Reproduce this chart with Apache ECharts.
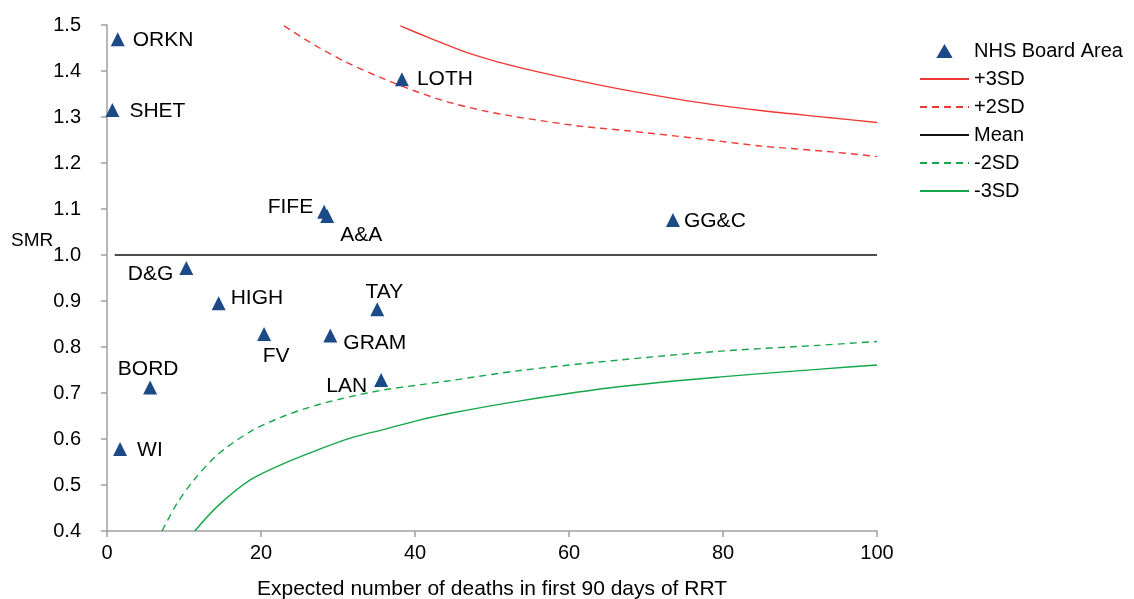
<!DOCTYPE html>
<html>
<head>
<meta charset="utf-8">
<script src="https://cdn.jsdelivr.net/npm/echarts@6/dist/echarts.min.js"></script>
<style>
  html, body { margin: 0; padding: 0; background: #fff; }
  #main { width: 1134px; height: 599px; }
</style>
</head>
<body>
<div id="main"></div>
<script>
// NHS board areas: expected deaths (x) and SMR (y)
var boards = ["ORKN", "SHET", "LOTH", "FIFE", "A&A", "GG&C", "D&G", "HIGH", "TAY", "FV", "GRAM", "LAN", "BORD", "WI"];
var expected = [1.4, 0.7, 38.3, 28.2, 28.6, 73.5, 10.3, 14.5, 35.1, 20.4, 29.0, 35.6, 5.6, 1.7];
var smr = [1.469, 1.315, 1.382, 1.094, 1.085, 1.076, 0.972, 0.895, 0.882, 0.828, 0.825, 0.728, 0.712, 0.578];

// control limits
var plus3X = [38.1, 42.0, 46.4, 50.7, 55.0, 61.5, 67.2, 76.3, 84.9, 93.6, 100];
var plus3Y = [1.498, 1.471, 1.442, 1.420, 1.402, 1.378, 1.359, 1.333, 1.314, 1.299, 1.288];
var plus2X = [23.0, 26.9, 31.2, 35.5, 39.9, 44.2, 48.5, 52.9, 57.2, 61.5, 67.6, 76.3, 84.9, 93.6, 100];
var plus2Y = [1.498, 1.457, 1.418, 1.386, 1.357, 1.333, 1.315, 1.301, 1.290, 1.280, 1.270, 1.254, 1.237, 1.225, 1.214];
var meanX = [1, 100];
var meanY = [1.0, 1.0];
var minus2X = [7.15, 9.1, 11.3, 14.3, 18.6, 23.0, 27.3, 31.6, 36.0, 40.3, 44.6, 53.7, 66.7, 79.7, 92.7, 100];
var minus2Y = [0.400, 0.460, 0.511, 0.565, 0.616, 0.650, 0.674, 0.692, 0.707, 0.717, 0.727, 0.749, 0.772, 0.791, 0.804, 0.812];
var minus3X = [11.4, 14.3, 18.6, 23.0, 27.3, 31.6, 36.0, 40.3, 44.6, 53.7, 66.7, 79.7, 92.7, 100];
var minus3Y = [0.400, 0.453, 0.511, 0.547, 0.576, 0.602, 0.621, 0.640, 0.656, 0.683, 0.714, 0.735, 0.752, 0.761];

// where each board's label sits
var labelPlace = {
    "ORKN": ["right", [0, 1]],
    "SHET": ["right", [2, 1]],
    "LOTH": ["right", [0, 0]],
    "FIFE": ["left", [4, -5]],
    "A&A": ["right", [-2, 19]],
    "GG&C": ["right", [-4, 1]],
    "D&G": ["left", [2, 6]],
    "HIGH": ["right", [-3, -5]],
    "TAY": ["top", [7, 8]],
    "FV": ["bottom", [12, -3]],
    "GRAM": ["right", [-2, 8]],
    "LAN": ["left", [1, 6]],
    "BORD": ["top", [-2, 7]],
    "WI": ["right", [2, 1]]
};

function pairs(xs, ys) {
    return xs.map(function (x, i) { return [x, ys[i]]; });
}

var font = "Liberation Sans";

var points = boards.map(function (b, i) {
    return {
        name: b,
        value: [expected[i], smr[i]],
        label: {
            position: labelPlace[b][0],
            offset: labelPlace[b][1]
        }
    };
});

function limitLine(name, xs, ys, color, type) {
    return {
        name: name,
        type: "line",
        data: pairs(xs, ys),
        smooth: 0.3,
        symbol: "none",
        showSymbol: false,
        silent: true,
        lineStyle: { color: color, width: 1.4, type: type },
        itemStyle: { color: color },
        z: 1
    };
}

var myChart = echarts.init(document.getElementById("main"));

var option = {
    backgroundColor: "#fff",
    animation: false,
    grid: { left: 107, right: 257, top: 25, bottom: 68, outerBoundsMode: "none" },
    legend: {
        orient: "vertical",
        left: 914,
        top: 36,
        itemWidth: 49,
        itemHeight: 14,
        itemGap: 8,
        itemStyle: { opacity: 0 },
        textStyle: { fontFamily: font, fontSize: 20, color: "#000" },
        data: [
            { name: "NHS Board Area", icon: "path://M7,0L14,12L0,12Z", itemStyle: { opacity: 1, color: "#1b4a86" } },
            "+3SD", "+2SD", "Mean", "-2SD", "-3SD"
        ]
    },
    xAxis: {
        type: "value",
        min: 0,
        max: 100,
        interval: 20,
        name: "Expected number of deaths in first 90 days of RRT",
        nameLocation: "middle",
        nameGap: 48,
        nameTextStyle: { fontFamily: font, fontSize: 21, color: "#000" },
        axisLine: { lineStyle: { color: "#a0a0a0", width: 1.5 } },
        axisTick: { show: true, length: 6, lineStyle: { color: "#a0a0a0", width: 1.5 } },
        axisLabel: { fontFamily: font, fontSize: 20, color: "#000", margin: 12 },
        splitLine: { show: false }
    },
    yAxis: {
        type: "value",
        min: 0.4,
        max: 1.5,
        interval: 0.1,
        axisLine: { show: true, lineStyle: { color: "#a0a0a0", width: 1.5 } },
        axisTick: { show: true, length: 6, lineStyle: { color: "#a0a0a0", width: 1.5 } },
        axisLabel: {
            fontFamily: font, fontSize: 20, color: "#000", margin: 26,
            formatter: function (v) { return v.toFixed(1); }
        },
        splitLine: { show: false }
    },
    graphic: [{
        type: "text",
        left: 11,
        top: 231,
        style: { text: "SMR", font: "19px " + font, fill: "#000" }
    }],
    series: [
        {
            name: "NHS Board Area",
            type: "scatter",
            symbol: "triangle",
            symbolSize: 14,
            data: points,
            itemStyle: { color: "#1b4a86", opacity: 1 },
            label: {
                show: true,
                distance: 8,
                formatter: "{b}",
                fontFamily: font,
                fontSize: 21,
                color: "#000"
            },
            z: 5
        },
        limitLine("+3SD", plus3X, plus3Y, "#ee3a35", "solid"),
        limitLine("+2SD", plus2X, plus2Y, "#ee3a35", [7, 5]),
        limitLine("Mean", meanX, meanY, "#111", "solid"),
        limitLine("-2SD", minus2X, minus2Y, "#15a64a", [7, 5]),
        limitLine("-3SD", minus3X, minus3Y, "#15a64a", "solid")
    ]
};

myChart.setOption(option);
</script>
</body>
</html>
